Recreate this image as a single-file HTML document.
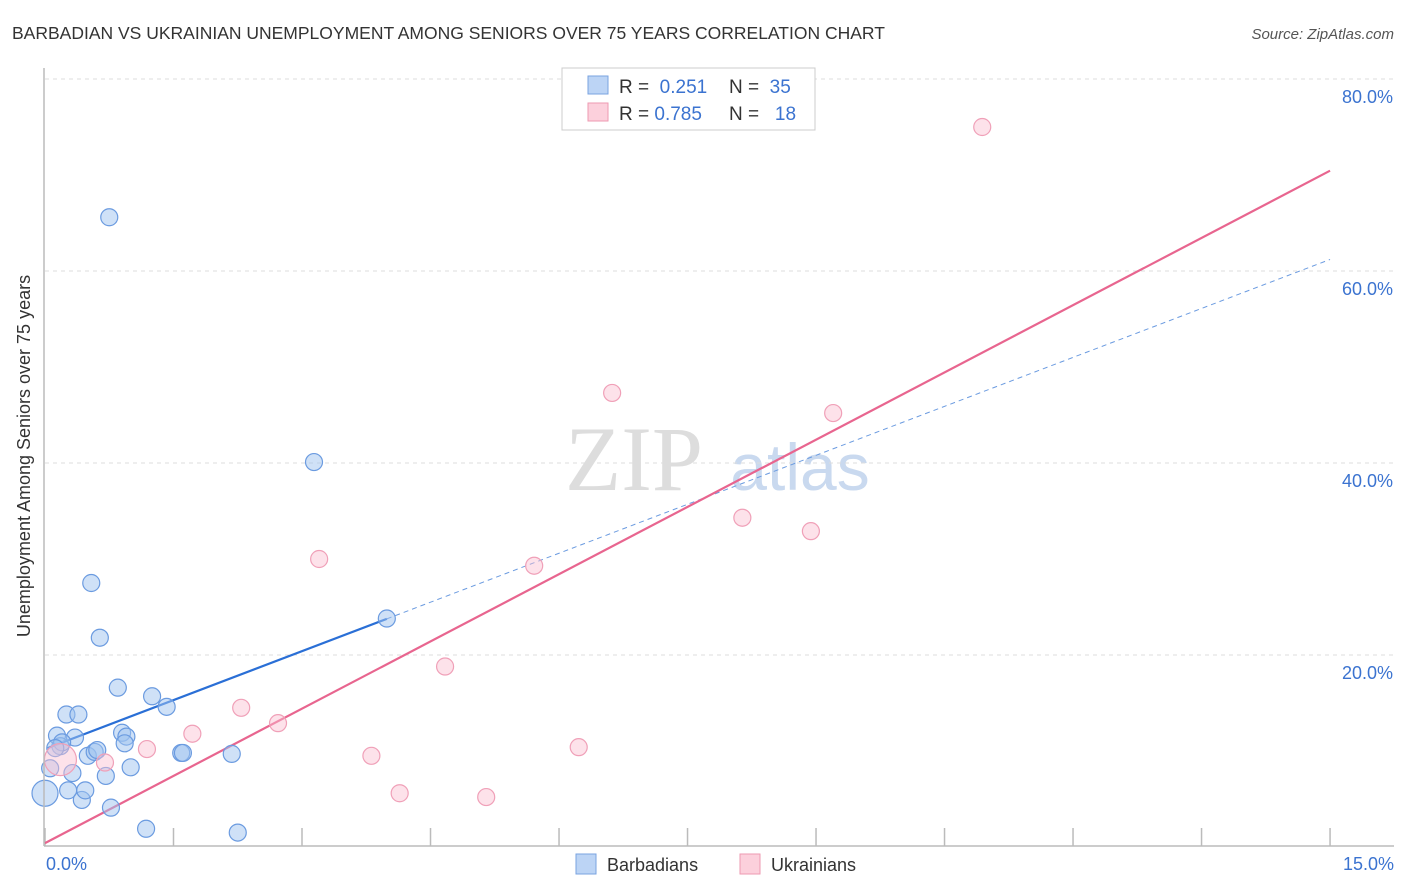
<!DOCTYPE html>
<html><head><meta charset="utf-8">
<style>
body{margin:0;background:#fff;font-family:"Liberation Sans",sans-serif;}
svg{display:block}
</style></head><body>
<svg id="chart" width="1406" height="892">
<text x="12" y="39" font-size="17.5" fill="#333">BARBADIAN VS UKRAINIAN UNEMPLOYMENT AMONG SENIORS OVER 75 YEARS CORRELATION CHART</text>
<text x="1394" y="39" font-size="15" fill="#555" font-style="italic" text-anchor="end">Source: ZipAtlas.com</text>
<text x="30" y="456" font-size="18" fill="#333" text-anchor="middle" transform="rotate(-90 30 456)">Unemployment Among Seniors over 75 years</text>
<g>
<text x="634" y="490" font-size="92" fill="#ddd" font-family="Liberation Serif,serif" text-anchor="middle">ZIP</text>
<text x="800" y="490" font-size="66" fill="#c9d9ef" text-anchor="middle">atlas</text>
</g>
<g id="grid"></g><g id="ticks"></g><g id="lines"></g><g id="pts"></g>
<line x1="44" y1="68" x2="44" y2="846" stroke="#bbb" stroke-width="1.5"/>
<line x1="44" y1="846" x2="1394" y2="846" stroke="#bbb" stroke-width="1.5"/>
<text x="46" y="870" font-size="18" fill="#3b73d0">0.0%</text>
<text x="1394" y="870" font-size="18" fill="#3b73d0" text-anchor="end">15.0%</text>
<g>
<rect x="562" y="68" width="253" height="62" fill="#fff" stroke="#ccc"/>
<rect x="588" y="76" width="20" height="18" fill="#bcd4f5" stroke="#7aa3e0"/>
<rect x="588" y="103" width="20" height="18" fill="#fcd0dc" stroke="#ee9ab2"/>
<text x="619" y="93" font-size="19" fill="#333">R = <tspan fill="#3b73d0">&#160;0.251</tspan></text>
<text x="729" y="93" font-size="19" fill="#333">N = <tspan fill="#3b73d0">&#160;35</tspan></text>
<text x="619" y="120" font-size="19" fill="#333">R = <tspan fill="#3b73d0">0.785</tspan></text>
<text x="729" y="120" font-size="19" fill="#333">N = <tspan fill="#3b73d0">&#160;&#160;18</tspan></text>
</g>
<g>
<rect x="576" y="854" width="20" height="20" fill="#bcd4f5" stroke="#7aa3e0"/>
<text x="607" y="871" font-size="18" fill="#333">Barbadians</text>
<rect x="740" y="854" width="20" height="20" fill="#fcd0dc" stroke="#ee9ab2"/>
<text x="771" y="871" font-size="18" fill="#333">Ukrainians</text>
</g>
</svg>
<script>
const yTicks=[20,40,60,80];
const yTickLabels=["20.0%","40.0%","60.0%","80.0%"];
const xTicks=[0,1.5,3,4.5,6,7.5,9,10.5,12,13.5,15];
const blueX=[0,0.06,0.14,0.18,0.25,0.39,0.35,0.27,0.32,0.43,0.47,0.5,0.58,0.61,0.64,0.54,0.75,0.71,0.77,0.85,0.9,0.95,0.93,1.0,1.18,1.25,1.42,1.59,1.61,2.18,2.25,3.14,3.99,0.2,0.12];
const blueY=[5.6,8.2,11.6,10.5,13.8,13.8,11.4,5.9,7.7,4.9,5.9,9.5,9.9,10.1,21.8,27.5,65.6,7.4,4.1,16.6,11.9,11.5,10.8,8.3,1.9,15.7,14.6,9.8,9.8,9.7,1.5,40.1,23.8,10.9,10.3];
const pinkX=[0.18,0.7,1.19,1.72,2.29,2.72,3.2,3.81,4.14,4.67,5.15,5.71,6.23,6.62,8.14,8.94,9.2,10.94];
const pinkY=[9.1,8.8,10.2,11.8,14.5,12.9,30.0,9.5,5.6,18.8,5.2,29.3,10.4,47.3,34.3,32.9,45.2,75.0];
const blueFit=[10.2,3.4];
const pinkFit=[0.4,4.67];
const X=v=>45+v*85.67, Y=v=>847-v*9.6;
const NS="http://www.w3.org/2000/svg";
function mk(t,a,p){const e=document.createElementNS(NS,t);for(const k in a)e.setAttribute(k,a[k]);document.getElementById(p).appendChild(e);return e;}
yTicks.forEach((t,i)=>{
 const l=mk('line',{x1:45,x2:1394,y1:Y(t),y2:Y(t),stroke:'#ddd','stroke-dasharray':'4,4'},'grid');
 
 
 const tx=mk('text',{x:1393,y:Y(t)+24,'font-size':18,fill:'#3b73d0','text-anchor':'end'},'grid');
 tx.textContent=yTickLabels[i];
 
 
});
xTicks.forEach(t=>{
 const l=mk('line',{x1:X(t),x2:X(t),y1:828,y2:846,stroke:'#bbb','stroke-width':1.5},'ticks');
 
 
});
const bl1=mk('line',{x1:X(0.03),y1:Y(blueFit[0]+blueFit[1]*0.03),x2:X(3.99),y2:Y(blueFit[0]+blueFit[1]*3.99),stroke:'#2a6fd6','stroke-width':2.2},'lines');


const bl2=mk('line',{x1:X(3.99),y1:Y(blueFit[0]+blueFit[1]*3.99),x2:X(15),y2:Y(blueFit[0]+blueFit[1]*15),stroke:'#6b9be0','stroke-width':1,'stroke-dasharray':'5,4'},'lines');


const pl=mk('line',{x1:X(0),y1:Y(pinkFit[0]),x2:X(15),y2:Y(pinkFit[0]+pinkFit[1]*15),stroke:'#e8658f','stroke-width':2.2},'lines');


blueX.forEach((x,i)=>{
 const c=mk('circle',{cx:X(x),cy:Y(blueY[i]),r:i===0?13:8.5,fill:'rgba(160,196,240,0.5)',stroke:'#6b9be0','stroke-width':1.2},'pts');
 
 
});
pinkX.forEach((x,i)=>{
 const c=mk('circle',{cx:X(x),cy:Y(pinkY[i]),r:i===0?16:8.5,fill:'rgba(250,190,208,0.45)',stroke:'#f0a0b8','stroke-width':1.2},'pts');
 
 
});
</script>
</body></html>
